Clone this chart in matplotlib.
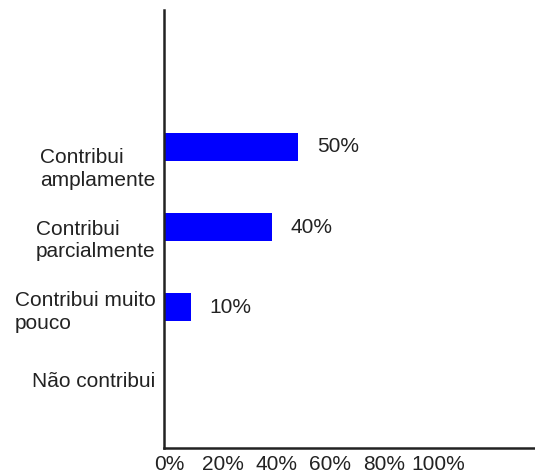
import numpy as np
import matplotlib.pyplot as plt
import matplotlib.transforms as mtransforms

categories = ['Não contribui', 'Contribui muito\npouco', 'Contribui\nparcialmente', 'Contribui\namplamente']
values = [0, 10, 40, 50]
xtick_values = [0, 20, 40, 60, 80, 100]
xtick_labels = ['0%', '20%', '40%', '60%', '80%', '100%']

plt.rcParams['font.family'] = ['Liberation Sans', 'DejaVu Sans']
fs = 15

fig = plt.figure(figsize=(5.35, 4.76), dpi=100)
ax = fig.add_axes([0.3065, 0.0588, 0.6935, 0.9202])

pos = np.arange(len(categories))
ax.barh(pos, values, height=0.34, color='#0000ff')

# value labels to the right of the bars (skip the empty one)
for p, v in zip(pos, values):
    if v > 0:
        ax.text(v + 7, p, f'{v}%', va='center', ha='left', fontsize=fs, color='#222222')

ax.set_xlim(0, 138)
ax.set_ylim(-0.76, 4.71)

# category labels sit a bit off the bar centres, like the original
ax.set_yticks(pos * 0.89 + 0.1)
ax.set_yticklabels(categories, fontsize=fs, color='#222222', ha='right',
                   multialignment='left', linespacing=1.25)
ax.set_xticks(xtick_values)
ax.set_xticklabels(xtick_labels, fontsize=fs, color='#222222')
ax.tick_params(axis='both', length=0)
ax.tick_params(axis='y', pad=6)
ax.tick_params(axis='x', pad=5)

# nudge the x labels a little to the right
shift = mtransforms.ScaledTranslation(5 / 100, 0, fig.dpi_scale_trans)
for lbl in ax.get_xticklabels():
    lbl.set_transform(lbl.get_transform() + shift)

for s in ['top', 'right']:
    ax.spines[s].set_visible(False)
for s in ['left', 'bottom']:
    ax.spines[s].set_color('#222222')
    ax.spines[s].set_linewidth(1.8)

fig.savefig('out.png', dpi=100)
